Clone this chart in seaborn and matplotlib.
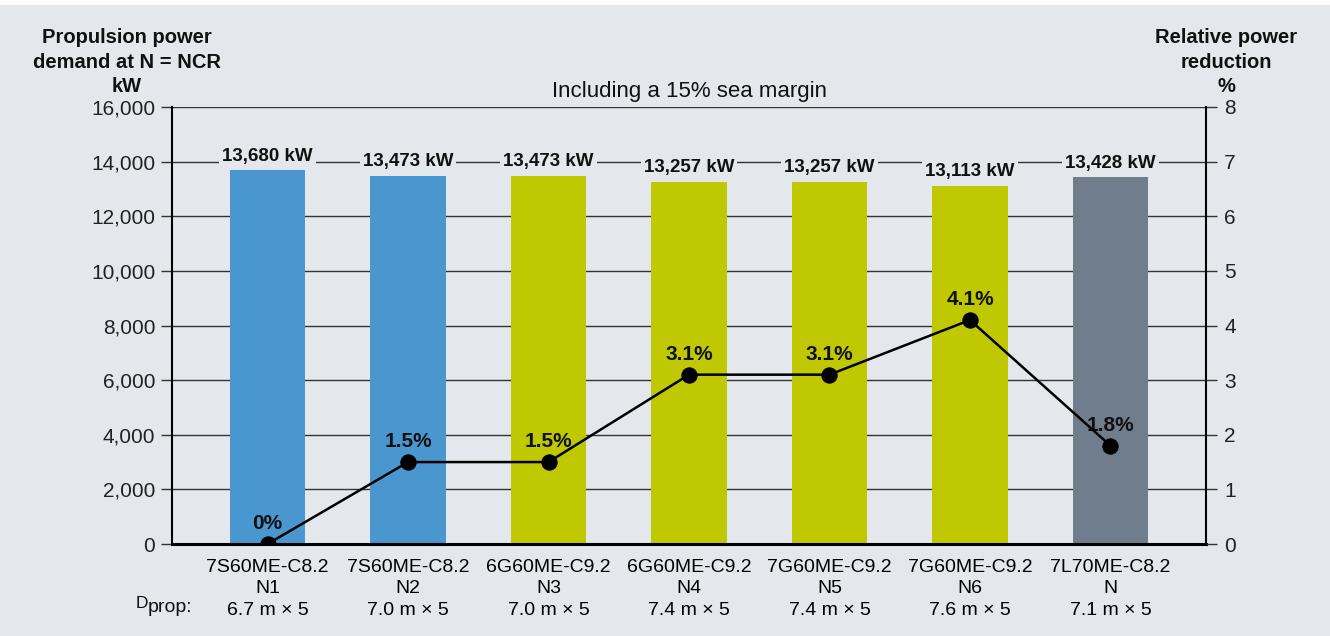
import numpy as np
import pandas as pd
import matplotlib.pyplot as plt
import seaborn as sns
from matplotlib.patches import Rectangle

# chart data
engines = ['7S60ME-C8.2', '7S60ME-C8.2', '6G60ME-C9.2', '6G60ME-C9.2',
           '7G60ME-C9.2', '7G60ME-C9.2', '7L70ME-C8.2']
speeds = ['N1', 'N2', 'N3', 'N4', 'N5', 'N6', 'N']
dprop = ['6.7 m × 5', '7.0 m × 5', '7.0 m × 5', '7.4 m × 5',
         '7.4 m × 5', '7.6 m × 5', '7.1 m × 5']
power_kw = [13680, 13473, 13473, 13257, 13257, 13113, 13428]
reduction_pct = [0, 1.5, 1.5, 3.1, 3.1, 4.1, 1.8]
bar_colors = ['#4a97cf', '#4a97cf', '#bfc800', '#bfc800', '#bfc800', '#bfc800', '#6f7d8d']

bg = '#e4e7ec'

sns.set_style('white')
plt.rcParams['font.family'] = ['Liberation Sans', 'DejaVu Sans']

df = pd.DataFrame({'case': speeds, 'power': power_kw, 'reduction': reduction_pct})

fig = plt.figure(figsize=(13.3, 6.36), dpi=100, facecolor=bg)
fig.patches.append(Rectangle((0, 1 - 5 / 636), 1, 5 / 636, transform=fig.transFigure,
                             facecolor='white', edgecolor='none', zorder=-1))
ax = fig.add_axes([172 / 1330, 1 - 544 / 636, (1206 - 172) / 1330, (544 - 107) / 636])
ax.set_facecolor(bg)

sns.barplot(data=df, x='case', y='power', hue='case', palette=bar_colors,
            legend=False, width=0.54, saturation=1, linewidth=0, ax=ax, zorder=2)

ax.set_ylim(0, 16000)
ax.set_xlim(-0.68, 6.68)
ax.set_yticks(np.arange(0, 16001, 2000))
ax.set_yticklabels([f'{v:,}' for v in range(0, 16001, 2000)], fontsize=15, color='#222')
ax.set_xticks(range(len(speeds)))
ax.set_xticklabels([f'{e}\n{s}\n{d}' for e, s, d in zip(engines, speeds, dprop)],
                   fontsize=14, color='black', linespacing=1.32)
ax.tick_params(axis='x', length=0, pad=11)
ax.tick_params(axis='y', length=8, width=1, color='#333', pad=4)
ax.set_axisbelow(True)
ax.yaxis.grid(True, color='#333', lw=1)
ax.set_xlabel('')
ax.set_ylabel('')
for s in ['top', 'right']:
    ax.spines[s].set_visible(False)
ax.spines['left'].set_linewidth(1.5)
ax.spines['left'].set_color('black')
ax.spines['bottom'].set_linewidth(2.2)
ax.spines['bottom'].set_color('black')
ax.spines['bottom'].set_zorder(5)

for i, v in enumerate(power_kw):
    ax.annotate(f'{v:,} kW', (i, v), xytext=(0, 4), textcoords='offset points',
                ha='center', va='bottom', fontsize=13.5, fontweight='bold', color='#111',
                bbox=dict(boxstyle='square,pad=0.15', fc=bg, ec='none'), zorder=3)

ax.set_title('Including a 15% sea margin', fontsize=16, pad=7, color='#111')

# relative power reduction on the right axis
ax2 = ax.twinx()
sns.lineplot(x=np.arange(len(reduction_pct)), y=reduction_pct, ax=ax2, color='black',
             lw=1.8, marker='o', markersize=11, markeredgecolor='black', zorder=4)
ax2.set_ylim(0, 8)
ax2.set_xlim(-0.68, 6.68)
ax2.set_yticks(range(0, 9))
ax2.set_yticklabels([str(v) for v in range(0, 9)], fontsize=15, color='#222')
ax2.tick_params(axis='y', length=8, width=1, color='#333', pad=5)
for s in ['top', 'left', 'bottom']:
    ax2.spines[s].set_visible(False)
ax2.spines['right'].set_linewidth(1.5)
ax2.spines['right'].set_color('black')
ax2.set_ylabel('')

for i, v in enumerate(reduction_pct):
    ax2.annotate(f'{v:g}%', (i, v), xytext=(0, 8), textcoords='offset points',
                 ha='center', va='bottom', fontsize=15, fontweight='bold', color='#111')

fig.text(127 / 1330, 1 - 62 / 636, 'Propulsion power\ndemand at N = NCR\nkW',
         ha='center', va='center', multialignment='center', fontsize=14.5,
         fontweight='bold', linespacing=1.35, color='#111')
fig.text(1226 / 1330, 1 - 62 / 636, 'Relative power\nreduction\n%',
         ha='center', va='center', multialignment='center', fontsize=14.5,
         fontweight='bold', linespacing=1.35, color='#111')
fig.text(148 / 1330, 1 - 603 / 636, 'D', ha='right', va='center', fontsize=12.5, color='#111')
fig.text(148 / 1330, 1 - 607 / 636, 'prop:', ha='left', va='center', fontsize=14, color='#111')

fig.savefig('out.png', dpi=100, facecolor=bg)
